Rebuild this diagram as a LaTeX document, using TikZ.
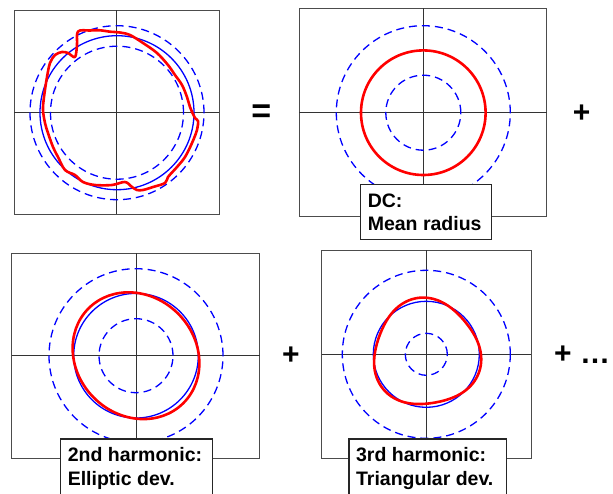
\documentclass[tikz,border=0pt]{standalone}
\usepackage{fontspec}
\setmainfont{Liberation Sans}
\begin{document}
\begin{tikzpicture}[x=1pt,y=-1pt,
 frame/.style={draw=black!70,line width=0.9pt},
 axisline/.style={draw=black!80,line width=0.8pt},
 bsolid/.style={draw=blue,line width=1.3pt},
 bdash/.style={draw=blue,line width=1.3pt,dash pattern=on 8pt off 5pt},
 redline/.style={draw=red,line width=2.6pt,line join=round,line cap=round},
 labbox/.style={draw=black!85,line width=1.2pt,fill=white,anchor=north west,inner sep=0pt},
 labtext/.style={anchor=north west,align=left,inner xsep=7.6pt,inner ysep=9.3pt,font=\fontsize{19.5}{23.7}\selectfont\bfseries},
 opsign/.style={inner sep=0pt,font=\fontsize{30}{30}\selectfont\bfseries}]
\useasboundingbox (0,0) rectangle (613,493);
\fill[white] (0,0) rectangle (613,493);

% ---------- Panel 1: measured profile ----------
\draw[frame] (14,10) rectangle (219,214);
\draw[axisline] (116.7,10) -- (116.7,214) (14,112.7) -- (219,112.7);
\draw[bdash] (117,112.7) circle[radius=87pt];
\draw[bdash] (117,112.7) circle[radius=66.5pt];
\draw[bsolid] (117,112.7) circle[radius=77pt];
\draw[redline] plot[smooth cycle,tension=0.55] coordinates {
 (78,31.5) (90,30.5) (100,30.3) (110,31.7) (120,32.5) (130,35) (143,43) (157,53)
 (168,65) (175,75) (182,85) (187,97) (190,107) (195,118) (198,121) (197,130)
 (192,143) (185,157) (177,167) (168,177) (165,183) (153,187) (143,190) (137,190)
 (132,187) (125,182) (112,185) (95,185) (83,182) (75,175) (65,170) (58,157)
 (53,147) (48,133) (45,123) (43,110) (44,97) (47,77) (50,63) (55,55) (62,52)
 (68,53) (75,57) (77,45)};

\node[opsign,font=\fontsize{34}{34}\selectfont\bfseries] (eq) at (261.3,114) {=};

% ---------- Panel 2: DC ----------
\draw[frame] (299.3,8.3) rectangle (546.7,216);
\draw[axisline] (423.3,8.3) -- (423.3,216) (299.3,112.7) -- (546.7,112.7);
\draw[bdash] (423.3,112.7) circle[radius=87pt];
\draw[bdash] (423.3,112.7) circle[radius=37.5pt];
\draw[redline] (423.3,112.7) circle[radius=62.3pt];
\node[labbox,minimum width=131pt,minimum height=55pt] (dcbox) at (360,184) {};
\node[labtext] (dctext) at (360,184) {DC:\\Mean radius};

\node[opsign] (plus1) at (581.7,113.3) {+};

% ---------- Panel 3: 2nd harmonic ----------
\draw[frame] (11.7,253.3) rectangle (259.7,458.3);
\draw[axisline] (136,253.3) -- (136,458.3) (11.7,355.7) -- (259.7,355.7);
\draw[bdash] (136,355.7) circle[radius=87pt];
\draw[bdash] (136,355.7) circle[radius=37pt];
\draw[bsolid] (136,355.7) circle[radius=62.3pt];
\draw[redline,rotate around={-45:(136,355.7)}] (136,355.7) ellipse[x radius=67pt,y radius=59.5pt];
\node[labbox,minimum width=151.7pt,minimum height=80pt] (h2box) at (60,438.3) {};
\node[labtext] (h2text) at (60,438.3) {2nd harmonic:\\Elliptic dev.};

\node[opsign] (plus2) at (291,356) {+};

% ---------- Panel 4: 3rd harmonic ----------
\draw[frame] (321.7,250) rectangle (531,458.3);
\draw[axisline] (426.3,250) -- (426.3,458.3) (321.7,354.3) -- (531,354.3);
\draw[bdash] (426.3,354.3) circle[radius=84pt];
\draw[bdash] (426.3,354.3) circle[radius=21pt];
\draw[bsolid] (426.3,354.3) circle[radius=53pt];
\draw[redline] plot[domain=0:360,samples=181,variable=\t]
 ({426.3+(53+3*cos(3*(\t-20)))*cos(\t)},{353.3+(53+3*cos(3*(\t-20)))*sin(\t)}) -- cycle;
\node[labbox,minimum width=157.4pt,minimum height=80pt] (h3box) at (348.3,438.3) {};
\node[labtext] (h3text) at (348.3,438.3) {3rd harmonic:\\Triangular dev.};

\node[opsign,anchor=west] (plusdots) at (554,355) {+ …};
\end{tikzpicture}
\end{document}
